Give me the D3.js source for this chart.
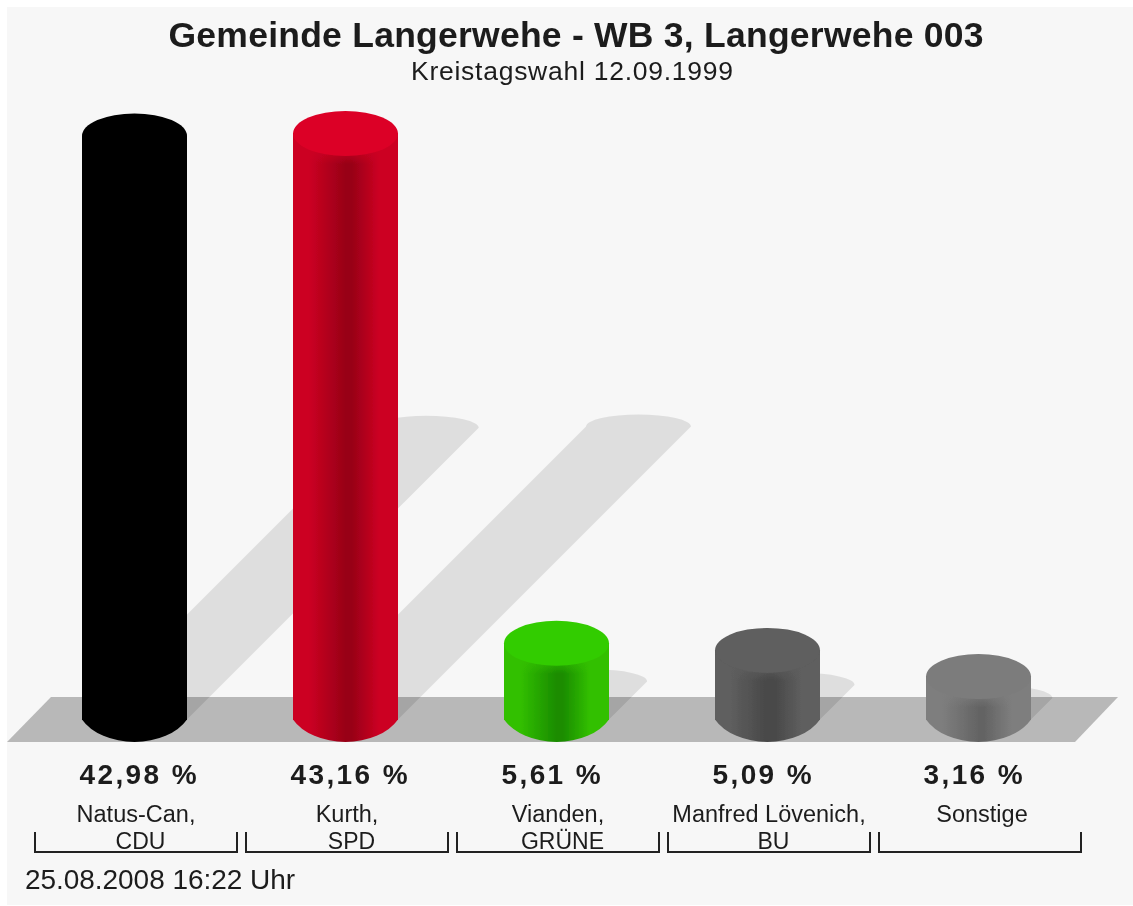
<!DOCTYPE html>
<html><head><meta charset="utf-8">
<script src="https://cdn.jsdelivr.net/npm/d3@7"></script>
<style>html,body{margin:0;padding:0;background:#fff}svg{display:block}text{font-family:"Liberation Sans",Arial,sans-serif;fill:#1c1c1c}</style>
</head><body><svg id="c" width="1133" height="906"></svg>
<script>
const names = ["Natus-Can,", "Kurth,", "Vianden,", "Manfred Lövenich,", "Sonstige"];
const parties = ["CDU", "SPD", "GRÜNE", "BU", ""];
const values = [42.98, 43.16, 5.61, 5.09, 3.16];
const valueLabels = ["42,98 %", "43,16 %", "5,61 %", "5,09 %", "3,16 %"];
const topColors = ["#000000", "#dc0028", "#33cc00", "#5e5e5e", "#7c7c7c"];
const sideColors = ["#000000", "#cc0022", "#32c000", "#5e5e5e", "#7e7e7e"];
const darkColors = ["#000000", "#980017", "#1a8c00", "#484848", "#646464"];

const svg = d3.select("#c");
const defs = svg.append("defs");
defs.append("filter").attr("id","soft").append("feGaussianBlur").attr("stdDeviation",0.7);
defs.append("filter").attr("id","softer").append("feGaussianBlur").attr("stdDeviation",0.5);

const x = d3.scaleBand().domain(d3.range(values.length)).range([29, 1084]);
const y = d3.scaleLinear().domain([0, 43.16]).range([719.5, 133.5]);
const cx = i => x(i) + x.bandwidth()/2;
const rx = 52.5, ry = 22.5, shRy = 12, base = 719.5;

svg.append("rect").attr("x",7).attr("y",7).attr("width",1126).attr("height",898).attr("fill","#f7f7f7");
svg.append("path").attr("d","M7,742L51,697H1118L1075,742Z").attr("fill","#b8b8b8");

const g = svg.append("g").attr("filter","url(#soft)");

// shadows
g.selectAll("path.sh").data(values).join("path").attr("class","sh")
  .attr("fill","#000").attr("fill-opacity",0.1)
  .attr("d",(v,i)=>{
    const h=(y(0)-y(v))/2, c=cx(i)+h, t=base-h;
    return `M${c-rx},${t}A${rx},${shRy} 0 0 1 ${c+rx},${t}L${cx(i)+rx},${base}L${cx(i)-rx},${base}Z`;
  });

// cylinders
values.forEach((v,i)=>{
  const gr = defs.append("linearGradient").attr("id","g"+i);
  [[0,sideColors[i]],[0.15,sideColors[i]],[0.5,darkColors[i]],[0.56,darkColors[i]],[0.82,sideColors[i]],[1,sideColors[i]]]
    .forEach(s=>gr.append("stop").attr("offset",s[0]).attr("stop-color",s[1]));
  const fade = defs.append("linearGradient").attr("id","f"+i).attr("x1",0).attr("x2",0).attr("y1",0).attr("y2",1);
  fade.append("stop").attr("offset",0.6).attr("stop-color",sideColors[i]).attr("stop-opacity",0.7);
  fade.append("stop").attr("offset",1).attr("stop-color",sideColors[i]).attr("stop-opacity",0);
});
g.selectAll("path.side").data(values).join("path").attr("class","side")
  .attr("fill",(v,i)=>`url(#g${i})`)
  .attr("d",(v,i)=>`M${cx(i)-rx},${y(v)}V${base}A58,39 0 0 0 ${cx(i)+rx},${base}V${y(v)}Z`);
g.selectAll("rect.fade").data(values).join("rect").attr("class","fade")
  .attr("x",(v,i)=>cx(i)-rx).attr("y",v=>y(v)).attr("width",2*rx).attr("height",ry+8)
  .attr("fill",(v,i)=>`url(#f${i})`);
g.selectAll("ellipse.top").data(values).join("ellipse").attr("class","top")
  .attr("cx",(v,i)=>cx(i)).attr("cy",v=>y(v)).attr("rx",rx).attr("ry",ry)
  .attr("fill",(v,i)=>topColors[i]);

// brackets
const b = svg.append("g").attr("filter","url(#softer)");
b.selectAll("path").data(values).join("path")
  .attr("fill","none").attr("stroke","#222").attr("stroke-width",2)
  .attr("d",(v,i)=>`M${x(i)+6},832V852H${x(i)+x.bandwidth()-3}V832`);

const t = svg.append("g").attr("filter","url(#softer)");
t.append("text").attr("x",576).attr("y",47).attr("text-anchor","middle").attr("font-size",35.5).attr("font-weight","bold").attr("textLength",815).text("Gemeinde Langerwehe - WB 3, Langerwehe 003");
t.append("text").attr("x",572).attr("y",80).attr("text-anchor","middle").attr("font-size",26.5).attr("textLength",322).text("Kreistagswahl 12.09.1999");
t.selectAll("text.val").data(valueLabels).join("text").attr("class","val")
  .attr("x",(d,i)=>cx(i)-55).attr("y",784).attr("font-size",28).attr("font-weight","bold").attr("letter-spacing",2.4).text(d=>d);
t.selectAll("text.nm").data(names).join("text").attr("class","nm")
  .attr("x",(d,i)=>cx(i)+1.5+(parties[i]?0:2)).attr("y",822).attr("text-anchor","middle").attr("font-size",23.5).text(d=>d);
t.selectAll("text.pt").data(parties).join("text").attr("class","pt")
  .attr("x",(d,i)=>cx(i)+6).attr("y",849).attr("text-anchor","middle").attr("font-size",23).text(d=>d);
t.append("text").attr("x",25).attr("y",889).attr("font-size",28).attr("textLength",270).text("25.08.2008 16:22 Uhr");
</script></body></html>
